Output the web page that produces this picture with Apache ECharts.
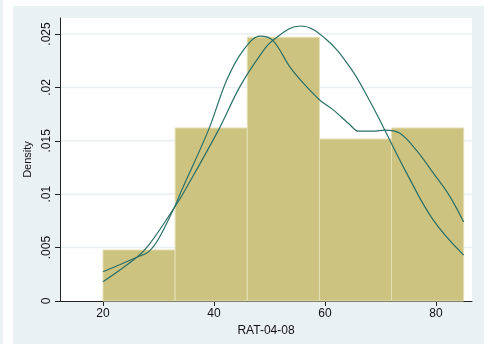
<!DOCTYPE html>
<html>
<head>
<meta charset="utf-8">
<script src="https://cdn.jsdelivr.net/npm/echarts@6/dist/echarts.min.js"></script>
<style>
  html, body { margin: 0; padding: 0; background: #fff; }
  #chart { width: 490px; height: 344px; }
</style>
</head>
<body>
<div id="chart"></div>
<script>
// histogram bins (RAT-04-08), width 13
const binEdges = [20, 33, 46, 59, 72, 85]
const binDensity = [0.00478, 0.0162, 0.0247, 0.01517, 0.0162]

// kernel density
const kernelX = [20, 23, 26.1, 28.2, 30, 32.8, 34.2, 39, 42.3, 45.3, 48.3, 50.6, 53.7, 56.1, 59.1, 61.5, 64.5, 66, 68.7, 70.8, 73.5, 76.5, 79.5, 82.5, 85]
const kernelY = [0.00274, 0.0034, 0.0041, 0.0046, 0.0058, 0.0087, 0.0104, 0.016, 0.0207, 0.0235, 0.0248, 0.0244, 0.0219, 0.0204, 0.0188, 0.0179, 0.0165, 0.0159, 0.0159, 0.016, 0.0157, 0.0141, 0.012, 0.0098, 0.0074]

// normal density overlay
const normalX = [20, 26.1, 28.2, 32.8, 34.8, 40.8, 44.7, 48.3, 50.6, 55.6, 60, 64.5, 68, 70.5, 74.7, 79.5, 85]
const normalY = [0.0018, 0.0041, 0.0052, 0.0087, 0.0104, 0.016, 0.0201, 0.023, 0.0244, 0.02575, 0.0246, 0.0219, 0.0188, 0.0163, 0.012, 0.0076, 0.0043]

const xTicks = [20, 40, 60, 80]
const yTicks = [0, 0.005, 0.01, 0.015, 0.02, 0.025]
const yLabels = ["0", ".005", ".01", ".015", ".02", ".025"]

const lineColor = "#2b6f68"
const font = "Liberation Sans, Arial, sans-serif"

const binData = binDensity.map((d, i) => [binEdges[i], binEdges[i + 1], d])

const chart = echarts.init(document.getElementById("chart"), null, { renderer: "canvas" })

const option = {
  animation: false,
  backgroundColor: "#fff",
  textStyle: { fontFamily: font },
  graphic: [
    { type: "rect", left: 0, top: 0, shape: { width: 3, height: 344 }, style: { fill: "#eaf1f3" }, z: -10 },
    { type: "rect", left: 13, top: 6, shape: { width: 471, height: 338 }, style: { fill: "#eaf1f3" }, z: -10 }
  ],
  grid: {
    left: 60,
    right: 18,
    top: 18,
    bottom: 43,
    show: true,
    backgroundColor: "#fff",
    borderWidth: 0
  },
  xAxis: {
    type: "value",
    min: 12.25,
    max: 86.5,
    name: "RAT-04-08",
    nameLocation: "middle",
    nameGap: 20,
    nameTextStyle: { fontSize: 12, color: "#111", fontFamily: font },
    axisLine: { show: true, lineStyle: { color: "#222", width: 1 } },
    axisTick: { show: true, length: 5, customValues: xTicks, lineStyle: { color: "#222" } },
    axisLabel: { customValues: xTicks, fontSize: 12, color: "#111", margin: 7, fontFamily: font },
    splitLine: { show: false }
  },
  yAxis: {
    type: "value",
    min: 0,
    max: 0.0265,
    name: "Density",
    nameLocation: "middle",
    nameGap: 25,
    nameTextStyle: { fontSize: 11, color: "#111", fontFamily: font },
    axisLine: { show: true, lineStyle: { color: "#222", width: 1 } },
    axisTick: { show: true, length: 5, customValues: yTicks, lineStyle: { color: "#222" } },
    axisLabel: {
      customValues: yTicks,
      rotate: 90,
      fontSize: 12,
      color: "#111",
      margin: 7,
      fontFamily: font,
      formatter: (v) => {
        const i = yTicks.findIndex((t) => Math.abs(t - v) < 1e-9)
        return i >= 0 ? yLabels[i] : ""
      }
    },
    splitLine: { show: false }
  },
  series: [
    {
      type: "custom",
      z: 1,
      data: binData,
      renderItem: (params, api) => {
        const p0 = api.coord([api.value(0), 0])
        const p1 = api.coord([api.value(1), api.value(2)])
        return {
          type: "rect",
          shape: { x: p0[0], y: p1[1], width: p1[0] - p0[0], height: p0[1] - p1[1] },
          style: { fill: "#cbc37f", stroke: "#e6dfb5", lineWidth: 1 }
        }
      }
    },
    {
      // light gridlines drawn over the white plot, hidden under bars
      type: "custom",
      z: 0,
      data: yTicks.slice(1).map((t) => [t]),
      renderItem: (params, api) => {
        const a = api.coord([12.25, api.value(0)])
        const b = api.coord([86.5, api.value(0)])
        return {
          type: "line",
          shape: { x1: a[0], y1: a[1], x2: b[0], y2: b[1] },
          style: { stroke: "#e8f0f2", lineWidth: 1.5 }
        }
      }
    },
    {
      type: "line",
      z: 3,
      smooth: 0.35,
      showSymbol: false,
      lineStyle: { color: lineColor, width: 1.2 },
      data: kernelX.map((x, i) => [x, kernelY[i]])
    },
    {
      type: "line",
      z: 3,
      smooth: 0.4,
      showSymbol: false,
      lineStyle: { color: lineColor, width: 1.2 },
      data: normalX.map((x, i) => [x, normalY[i]])
    }
  ]
}

chart.setOption(option)
</script>
</body>
</html>
